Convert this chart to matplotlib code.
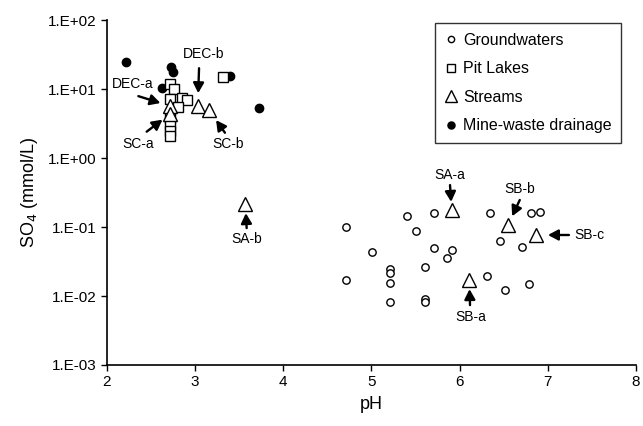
import matplotlib.pyplot as plt
from matplotlib.ticker import FixedLocator, NullLocator, FuncFormatter
import numpy as np

plt.rcParams['font.family'] = ['Liberation Sans', 'DejaVu Sans']

# Data
gw_ph = [4.71, 5.01, 4.71, 5.21, 5.21, 5.21, 5.21, 5.40, 5.51, 5.71, 5.71, 5.91,
         5.86, 5.61, 5.61, 5.61, 6.35, 6.46, 6.31, 6.81, 6.91, 6.71, 6.52, 6.79]
gw_so4 = [0.099, 0.043, 0.017, 0.0244, 0.0218, 0.0156, 0.0081, 0.146, 0.0885, 0.161,
          0.050, 0.046, 0.036, 0.026, 0.009, 0.0082, 0.158, 0.062, 0.0197, 0.158,
          0.166, 0.051, 0.0122, 0.0148]

pit_ph = [2.71, 2.76, 2.71, 2.85, 2.91, 2.80, 3.32, 2.71, 2.71, 2.71, 2.71]
pit_so4 = [11.8, 10.0, 7.2, 7.3, 6.85, 5.4, 14.8, 3.76, 3.0, 2.49, 2.10]

stream_names = ['DEC-a', 'SC-a', 'DEC-b', 'SC-b', 'SA-b', 'SA-a', 'SB-a', 'SB-b', 'SB-c']
stream_ph = [2.71, 2.71, 3.03, 3.16, 3.57, 5.91, 6.11, 6.55, 6.87]
stream_so4 = [5.7, 4.3, 5.7, 4.9, 0.213, 0.176, 0.017, 0.107, 0.0766]

mine_ph = [2.21, 2.73, 2.75, 2.62, 3.39, 3.72]
mine_so4 = [24.4, 21.0, 17.5, 10.5, 15.6, 5.25]

# label placement in points from each stream point: text, arrow tail, arrow head
label_pos = {
    'DEC-a': ((-26.6, 15.4), (-22.5, 7.0), (-6.9, 0.0)),
    'SC-a': ((-22.5, -21.4), (-16.5, -12.5), (-5.7, -2.9)),
    'DEC-b': ((4.5, 37.4), (0.9, 27.1), (0.9, 9.1)),
    'SC-b': ((13.7, -24.3), (11.3, -16.1), (4.1, -7.5)),
    'SA-b': ((0.9, -25.0), (0.9, -17.1), (0.9, -6.3)),
    'SA-a': ((-1.2, 25.2), (-1.2, 18.0), (-1.2, 5.8)),
    'SB-a': ((1.2, -26.4), (0.5, -18.0), (0.5, -6.5)),
    'SB-b': ((8.4, 25.7), (8.4, 18.0), (1.7, 6.7)),
    'SB-c': ((38.4, 0.0), (23.5, 0.0), (8.4, 0.0)),
}

yticks = [1e-3, 1e-2, 1e-1, 1e0, 1e1, 1e2]

fig = plt.figure(figsize=(6.43, 4.26), dpi=100)
ax = fig.add_axes([0.1664, 0.1432, 0.8226, 0.8098])

ax.plot(gw_ph, gw_so4, 'o', ms=5.3, mfc='white', mec='black', mew=1.0,
        label='Groundwaters', zorder=3)
ax.plot(pit_ph, pit_so4, 's', ms=7.5, mfc='white', mec='black', mew=1.0,
        label='Pit Lakes', zorder=3)
ax.plot(stream_ph, stream_so4, '^', ms=10, mfc='white', mec='black', mew=1.0,
        label='Streams', zorder=4)
ax.plot(mine_ph, mine_so4, 'o', ms=6, mfc='black', mec='black',
        label='Mine-waste drainage', zorder=2)

for name, x, y in zip(stream_names, stream_ph, stream_so4):
    txt, tail, head = label_pos[name]
    ax.annotate(name, xy=(x, y), xytext=txt, textcoords='offset points',
                ha='center', va='center', fontsize=10)
    ax.annotate('', xy=(x, y), xytext=tail, textcoords='offset points',
                arrowprops=dict(arrowstyle='-|>,head_length=0.6,head_width=0.32',
                                color='black', lw=1.7, shrinkA=0,
                                shrinkB=float(np.hypot(*head))))

ax.set_yscale('log')
ax.set_xlim(2, 8)
ax.set_ylim(1e-3, 1e2)
ax.set_xticks([2, 3, 4, 5, 6, 7, 8])
ax.yaxis.set_major_locator(FixedLocator(yticks))
ax.yaxis.set_minor_locator(NullLocator())
ax.yaxis.set_major_formatter(FuncFormatter(
    lambda v, p: '1.E%+03d' % int(round(np.log10(v)))))
ax.tick_params(labelsize=11, direction='out', length=4, width=1)
ax.spines['top'].set_visible(False)
ax.spines['right'].set_visible(False)
ax.spines['left'].set_linewidth(1.2)
ax.spines['bottom'].set_linewidth(1.2)

ax.set_xlabel('pH', fontsize=13, labelpad=5)
ax.set_ylabel('SO$_4$ (mmol/L)', fontsize=13, labelpad=6)

leg = ax.legend(loc='upper right', bbox_to_anchor=(0.966, 0.946),
                bbox_transform=fig.transFigure, borderaxespad=0,
                fontsize=11.5, frameon=True, fancybox=False, edgecolor='black',
                handlelength=0.8, handletextpad=0.35, labelspacing=0.85,
                borderpad=0.6, numpoints=1, markerscale=0.85)
leg.get_frame().set_linewidth(1.0)

fig.savefig('out.png', dpi=100)
